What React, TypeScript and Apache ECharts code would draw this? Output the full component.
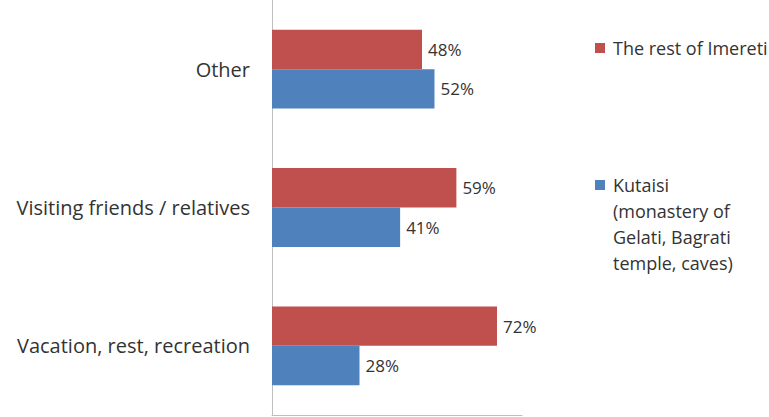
import React, { useEffect, useRef } from "react";
import * as echarts from "echarts";

const categories = ["Vacation, rest, recreation", "Visiting friends / relatives", "Other"];
const restValues = [72, 59, 48];
const kutaisiValues = [28, 41, 52];
const seriesNames = ["The rest of Imereti", "Kutaisi"];
const kutaisiLegendText = "Kutaisi\n(monastery of\nGelati, Bagrati\ntemple, caves)";

const RED = "#C0504D";
const BLUE = "#4F81BD";
const TEXT = "#333333";
const FONT = "Open Sans";

export default function App() {
  const ref = useRef<HTMLDivElement>(null);
  useEffect(() => {
    if (!ref.current) return;
    const chart = echarts.init(ref.current, undefined, { renderer: "svg" });
    const label = {
      show: true,
      position: "right",
      distance: 6,
      formatter: "{c}%",
      color: TEXT,
      fontFamily: FONT,
      fontSize: 17,
    };
    chart.setOption({
      animation: false,
      backgroundColor: "#ffffff",
      grid: { left: 272, top: 0, right: 247, bottom: 2, containLabel: false },
      xAxis: {
        type: "value",
        min: 0,
        max: 80,
        axisLabel: { show: false },
        axisTick: { show: false },
        splitLine: { show: false },
        axisLine: { show: true, lineStyle: { color: "#BFBFBF", width: 1 } },
      },
      yAxis: {
        type: "category",
        data: categories,
        axisTick: { show: false },
        axisLine: { show: true, lineStyle: { color: "#BFBFBF", width: 1 } },
        axisLabel: { margin: 22, color: TEXT, fontFamily: FONT, fontSize: 20 },
      },
      series: [
        {
          name: seriesNames[0],
          type: "bar",
          data: restValues,
          itemStyle: { color: RED },
          barGap: "0%",
          barCategoryGap: "43%",
          label,
        },
        {
          name: seriesNames[1],
          type: "bar",
          data: kutaisiValues,
          itemStyle: { color: BLUE },
          barGap: "0%",
          barCategoryGap: "43%",
          label,
        },
      ],
      graphic: [
        { type: "rect", left: 595, top: 43, shape: { width: 10, height: 10 }, style: { fill: RED } },
        {
          type: "text",
          x: 613,
          y: 48,
          style: { text: seriesNames[0], fill: TEXT, fontFamily: FONT, fontSize: 18, verticalAlign: "middle" },
        },
        { type: "rect", left: 595, top: 180, shape: { width: 10, height: 10 }, style: { fill: BLUE } },
        {
          type: "text",
          x: 613,
          y: 172,
          style: {
            text: kutaisiLegendText,
            fill: TEXT,
            fontFamily: FONT,
            fontSize: 18,
            lineHeight: 26,
            verticalAlign: "top",
          },
        },
      ],
    });
    return () => chart.dispose();
  }, []);
  return <div ref={ref} style={{ position: "fixed", left: 0, top: 0, width: 769, height: 417 }} />;
}
